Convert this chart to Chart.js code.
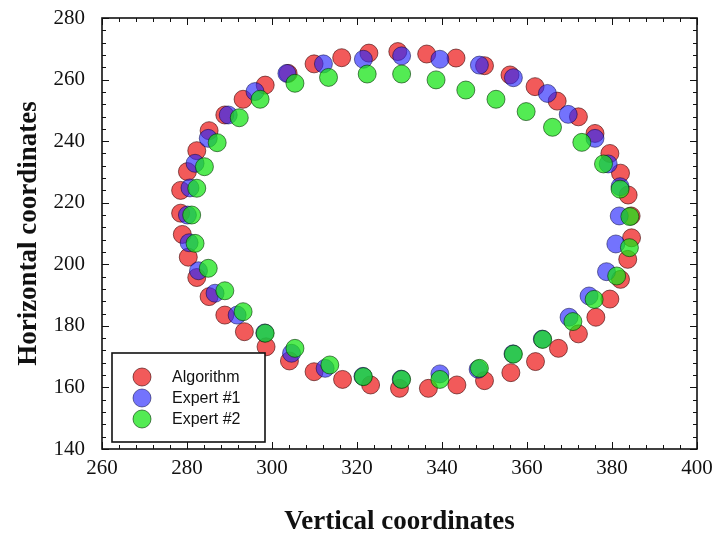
<!DOCTYPE html>
<html>
<head>
<meta charset="utf-8">
<script src="https://cdn.jsdelivr.net/npm/chart.js@4.4.1/dist/chart.umd.min.js"></script>
<style>
  body { margin: 0; background: #fff; }
  #wrap { width: 718px; height: 533px; position: relative; }
</style>
</head>
<body>
<div id="wrap"><canvas id="contourChart"></canvas></div>
<script>
// contour points
const algoX = [278.9, 278.5, 278.5, 280.1, 282.3, 285.2, 288.9, 293.2, 298.4, 303.8, 309.9, 316.4, 322.8, 329.6, 336.4, 343.3, 350.0, 356.0, 361.9, 367.1, 372.1, 376.0, 379.5, 382.0, 383.8, 384.5, 384.6, 383.7, 382.0, 379.5, 376.2, 372.1, 367.4, 362.0, 356.2, 350.0, 343.5, 336.8, 330.0, 323.2, 316.6, 309.9, 304.1, 298.6, 293.5, 288.9, 285.2, 282.3, 280.3];
const algoY = [209.7, 216.6, 224.0, 230.1, 236.9, 243.4, 248.5, 253.6, 258.2, 262.0, 265.1, 267.1, 268.6, 269.1, 268.3, 267.0, 264.5, 261.5, 257.7, 253.0, 247.9, 242.5, 236.0, 229.6, 222.5, 215.7, 208.6, 201.6, 195.1, 188.7, 182.8, 177.4, 172.7, 168.4, 164.8, 162.2, 160.8, 159.7, 159.7, 160.8, 162.6, 165.1, 168.6, 173.2, 178.1, 183.5, 189.5, 195.7, 202.3];

const exp1X = [280.1, 280.7, 281.9, 285.0, 289.7, 296.0, 303.5, 312.1, 321.5, 330.5, 339.5, 348.8, 356.8, 364.8, 369.7, 376.0, 379.1, 381.9, 381.7, 380.9, 378.7, 374.6, 369.9, 363.6, 356.7, 348.5, 339.5, 330.4, 321.4, 312.5, 304.6, 298.3, 291.8, 286.6, 282.7, 280.5];
const exp1Y = [216.0, 224.8, 232.8, 240.9, 248.5, 256.1, 262.0, 265.1, 266.6, 267.7, 266.6, 264.7, 260.6, 255.5, 248.7, 240.9, 232.6, 225.2, 215.7, 206.6, 197.6, 189.7, 182.8, 175.7, 170.9, 165.9, 164.4, 162.7, 163.6, 166.2, 171.1, 177.7, 183.5, 190.6, 197.9, 207.0];

const exp2X = [281.1, 282.3, 284.1, 287.1, 292.3, 297.2, 305.4, 313.3, 322.4, 330.5, 338.6, 345.6, 352.7, 359.8, 366.0, 372.9, 378.0, 381.9, 384.2, 384.1, 381.1, 375.8, 370.8, 363.7, 356.8, 348.8, 339.5, 330.5, 321.5, 313.6, 305.4, 298.4, 293.2, 288.9, 285.0, 281.9];
const exp2Y = [216.0, 224.7, 231.7, 239.5, 247.6, 253.6, 258.8, 260.7, 261.8, 261.8, 259.9, 256.6, 253.6, 249.6, 244.5, 239.6, 232.6, 224.4, 215.5, 205.4, 196.2, 188.6, 181.4, 175.6, 170.8, 166.2, 162.6, 162.6, 163.5, 167.3, 172.7, 177.6, 184.6, 191.4, 198.7, 206.8];

const seriesNames = ['Algorithm', 'Expert #1', 'Expert #2'];
const xTicks = [260, 280, 300, 320, 340, 360, 380, 400];
const yTicks = [140, 160, 180, 200, 220, 240, 260, 280];

function toPoints(xs, ys) {
    return xs.map((x, i) => ({ x: x, y: ys[i] }));
}

// frame on all four sides with inward major/minor ticks
const frameTicks = {
    id: 'frameTicks',
    afterDatasetsDraw(chart) {
        const ctx = chart.ctx;
        const a = chart.chartArea;
        const sx = chart.scales.x, sy = chart.scales.y;
        ctx.save();
        ctx.strokeStyle = '#111';
        ctx.lineWidth = 1;
        ctx.beginPath();
        for (let v = xTicks[0]; v <= xTicks[xTicks.length - 1]; v += 4) {
            const px = Math.round(sx.getPixelForValue(v)) + 0.5;
            const len = v % 20 === 0 ? 7 : 4;
            ctx.moveTo(px, a.bottom); ctx.lineTo(px, a.bottom - len);
            ctx.moveTo(px, a.top); ctx.lineTo(px, a.top + len);
        }
        for (let v = yTicks[0]; v <= yTicks[yTicks.length - 1]; v += 4) {
            const py = Math.round(sy.getPixelForValue(v)) + 0.5;
            const len = v % 20 === 0 ? 7 : 4;
            ctx.moveTo(a.left, py); ctx.lineTo(a.left + len, py);
            ctx.moveTo(a.right, py); ctx.lineTo(a.right - len, py);
        }
        ctx.stroke();
        ctx.lineWidth = 1.6;
        ctx.strokeRect(a.left, a.top, a.right - a.left, a.bottom - a.top);
        ctx.restore();
    }
};

// boxed legend in the lower left corner of the plot
const boxLegend = {
    id: 'boxLegend',
    afterDraw(chart) {
        const ctx = chart.ctx;
        const a = chart.chartArea;
        const bx = a.left + 10, by = a.bottom - 96, bw = 153, bh = 89;
        ctx.save();
        ctx.fillStyle = '#fff';
        ctx.fillRect(bx, by, bw, bh);
        ctx.strokeStyle = '#111';
        ctx.lineWidth = 1.6;
        ctx.strokeRect(bx, by, bw, bh);
        ctx.font = '16px "Liberation Sans", Arial, sans-serif';
        ctx.textBaseline = 'middle';
        chart.data.datasets.forEach((ds, i) => {
            const cy = by + 24 + i * 21;
            ctx.beginPath();
            ctx.arc(bx + 30, cy, 9, 0, Math.PI * 2);
            ctx.fillStyle = ds.backgroundColor;
            ctx.fill();
            ctx.lineWidth = 1;
            ctx.strokeStyle = ds.borderColor;
            ctx.stroke();
            ctx.fillStyle = '#111';
            ctx.fillText(ds.label, bx + 60, cy + 1);
        });
        ctx.restore();
    }
};

const serif = '"Liberation Serif", "Times New Roman", serif';

const ctx = document.getElementById('contourChart');
new Chart(ctx, {
    type: 'scatter',
    data: {
        datasets: [
            { label: seriesNames[0], order: 2, data: toPoints(algoX, algoY), backgroundColor: 'rgba(238, 35, 35, 0.75)', borderColor: 'rgba(60, 0, 0, 0.6)' },
            { label: seriesNames[1], order: 1, data: toPoints(exp1X, exp1Y), backgroundColor: 'rgba(40, 40, 252, 0.65)', borderColor: 'rgba(0, 0, 60, 0.5)' },
            { label: seriesNames[2], order: 0, data: toPoints(exp2X, exp2Y), backgroundColor: 'rgba(25, 228, 25, 0.75)', borderColor: 'rgba(0, 50, 0, 0.6)' }
        ]
    },
    options: {
        responsive: true,
        maintainAspectRatio: false,
        animation: false,
        layout: { padding: { top: 18, right: 21, left: 0, bottom: 0 } },
        elements: { point: { radius: 9, borderWidth: 1, hoverRadius: 9 } },
        plugins: { legend: { display: false }, tooltip: { enabled: false } },
        scales: {
            x: {
                type: 'linear',
                min: 260, max: 400,
                afterBuildTicks: s => { s.ticks = xTicks.map(v => ({ value: v })); },
                afterFit: s => { s.height = 84; s.paddingLeft = 0; s.paddingRight = 0; },
                grid: { display: false, drawTicks: false },
                border: { display: false },
                ticks: { padding: 7, color: '#111', font: { family: serif, size: 21 } },
                title: {
                    display: true, text: 'Vertical coordinates', color: '#111',
                    padding: { top: 0, bottom: 0 },
                    font: { family: serif, size: 27, weight: 'bold', lineHeight: 0.8 }
                }
            },
            y: {
                type: 'linear',
                min: 140, max: 280,
                afterBuildTicks: s => { s.ticks = yTicks.map(v => ({ value: v })); },
                afterFit: s => { s.width = 102; s.paddingTop = 0; s.paddingBottom = 0; },
                grid: { display: false, drawTicks: false },
                border: { display: false },
                ticks: { padding: 17, color: '#111', font: { family: serif, size: 21 } },
                title: {
                    display: true, text: 'Horizontal coordinates', color: '#111',
                    padding: { top: 16, bottom: 16 },
                    font: { family: serif, size: 27, weight: 'bold', lineHeight: 1 }
                }
            }
        }
    },
    plugins: [frameTicks, boxLegend]
});
</script>
</body>
</html>
